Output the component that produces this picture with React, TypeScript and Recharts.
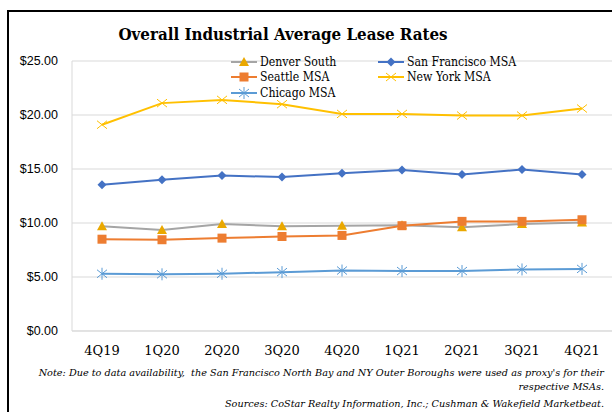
import React from 'react'
import { LineChart, Line, XAxis, YAxis, CartesianGrid } from 'recharts'

const quarters = ['4Q19', '1Q20', '2Q20', '3Q20', '4Q20', '1Q21', '2Q21', '3Q21', '4Q21']
const denverSouth = [9.7, 9.35, 9.9, 9.7, 9.75, 9.8, 9.6, 9.9, 10.05]
const sanFrancisco = [13.55, 14.0, 14.4, 14.25, 14.6, 14.9, 14.5, 14.95, 14.5]
const seattle = [8.5, 8.45, 8.6, 8.75, 8.85, 9.75, 10.15, 10.15, 10.3]
const newYork = [19.1, 21.1, 21.4, 21.0, 20.1, 20.1, 19.95, 19.95, 20.6]
const chicago = [5.3, 5.25, 5.3, 5.45, 5.6, 5.55, 5.55, 5.7, 5.75]
const yTicks = [0, 5, 10, 15, 20, 25]

const series = [
  { key: 'Denver South', values: denverSouth, stroke: '#A5A5A5', marker: '#EAA800', shape: 'triangle' },
  { key: 'San Francisco MSA', values: sanFrancisco, stroke: '#4472C4', marker: '#4472C4', shape: 'diamond' },
  { key: 'Seattle MSA', values: seattle, stroke: '#ED7D31', marker: '#ED7D31', shape: 'square' },
  { key: 'New York MSA', values: newYork, stroke: '#FFC000', marker: '#FFC000', shape: 'x' },
  { key: 'Chicago MSA', values: chicago, stroke: '#5B9BD5', marker: '#5B9BD5', shape: 'star' },
]

const data = quarters.map((q, i) => {
  const row: Record<string, string | number> = { quarter: q }
  series.forEach((s) => {
    row[s.key] = s.values[i]
  })
  return row
})

const serif = '"DejaVu Serif", serif'
const serifCond = '"DejaVu Serif Condensed", "DejaVu Serif", serif'

function Marker({ cx, cy, shape, color }: { cx: number; cy: number; shape: string; color: string }) {
  if (shape === 'triangle') {
    return <polygon points={`${cx},${cy - 5} ${cx + 5},${cy + 4} ${cx - 5},${cy + 4}`} fill={color} />
  }
  if (shape === 'diamond') {
    return <polygon points={`${cx},${cy - 4.5} ${cx + 4.5},${cy} ${cx},${cy + 4.5} ${cx - 4.5},${cy}`} fill={color} />
  }
  if (shape === 'square') {
    return <rect x={cx - 4.5} y={cy - 4.5} width={9} height={9} fill={color} />
  }
  if (shape === 'x') {
    return (
      <g stroke={color} strokeWidth={1} fill="none">
        <line x1={cx - 5} y1={cy - 4} x2={cx + 5} y2={cy + 4} />
        <line x1={cx - 5} y1={cy + 4} x2={cx + 5} y2={cy - 4} />
      </g>
    )
  }
  // asterisk for Chicago
  return (
    <g stroke={color} strokeWidth={1} fill="none">
      <line x1={cx - 5} y1={cy - 4} x2={cx + 5} y2={cy + 4} />
      <line x1={cx - 5} y1={cy + 4} x2={cx + 5} y2={cy - 4} />
      <line x1={cx} y1={cy - 6} x2={cx} y2={cy + 6} />
    </g>
  )
}

function makeDot(shape: string, color: string) {
  return (props: any) => {
    const { cx, cy, index } = props
    if (cx == null || cy == null) return <g key={index} />
    return <Marker key={index} cx={cx} cy={cy} shape={shape} color={color} />
  }
}

function ChartLegend() {
  return (
    <div
      style={{
        position: 'absolute',
        left: 231,
        top: 54,
        display: 'grid',
        gridTemplateColumns: '147px 170px',
        fontFamily: serifCond,
        fontSize: 12.2,
        color: '#000',
      }}
    >
      {series.map((s) => (
        <div key={s.key} style={{ display: 'flex', alignItems: 'center', height: 15.5, whiteSpace: 'nowrap' }}>
          <svg width={27} height={14} style={{ marginRight: 2 }}>
            <line x1={0} y1={7} x2={26} y2={7} stroke={s.stroke} strokeWidth={2} />
            <Marker cx={13} cy={7} shape={s.shape} color={s.marker} />
          </svg>
          <span>{s.key}</span>
        </div>
      ))}
    </div>
  )
}

export default function App() {
  return (
    <div style={{ position: 'absolute', left: 0, top: 0, width: 612, height: 412, background: '#fff', overflow: 'hidden' }}>
      <div style={{ position: 'absolute', left: 7, top: 10, width: 620, height: 420, borderLeft: '2px solid #000', borderTop: '2px solid #000' }} />
      <div style={{ position: 'absolute', left: 8, width: 550, top: 24, textAlign: 'center', fontFamily: serifCond, fontWeight: 'bold', fontSize: 16.8, color: '#000' }}>
        Overall Industrial Average Lease Rates
      </div>
      <LineChart width={612} height={412} data={data} margin={{ top: 61, right: 0, left: 8, bottom: 51 }}>
        <CartesianGrid vertical={false} stroke="#D9D9D9" strokeWidth={1} />
        <XAxis
          dataKey="quarter"
          axisLine={{ stroke: '#D9D9D9' }}
          tickLine={false}
          height={30}
          padding={{ left: 30, right: 30 }}
          interval={0}
          tick={{ fontFamily: serif, fontSize: 13, fill: '#000' }}
          tickMargin={9}
        />
        <YAxis
          width={64}
          domain={[0, 25]}
          ticks={yTicks}
          axisLine={{ stroke: '#D9D9D9' }}
          tickLine={false}
          tickFormatter={(v: number) => `$${v.toFixed(2)}`}
          tick={{ fontFamily: '"Liberation Sans", Arial, sans-serif', fontSize: 12.5, fill: '#000' }}
          tickMargin={8}
        />
        {series.map((s) => (
          <Line
            key={s.key}
            type="linear"
            dataKey={s.key}
            stroke={s.stroke}
            strokeWidth={2}
            dot={makeDot(s.shape, s.marker)}
            activeDot={false}
            isAnimationActive={false}
          />
        ))}
      </LineChart>
      <ChartLegend />
      <div style={{ position: 'absolute', right: 8, top: 366, textAlign: 'right', fontFamily: serif, fontStyle: 'italic', fontSize: 9.7, lineHeight: '14px', color: '#000', whiteSpace: 'nowrap' }}>
        <div>Note: Due to data availability,&nbsp; the San Francisco North Bay and NY Outer Boroughs were used as proxy's for their</div>
        <div>respective MSAs.</div>
        <div style={{ marginTop: 3 }}>Sources: CoStar Realty Information, Inc.; Cushman &amp; Wakefield Marketbeat.</div>
      </div>
    </div>
  )
}
